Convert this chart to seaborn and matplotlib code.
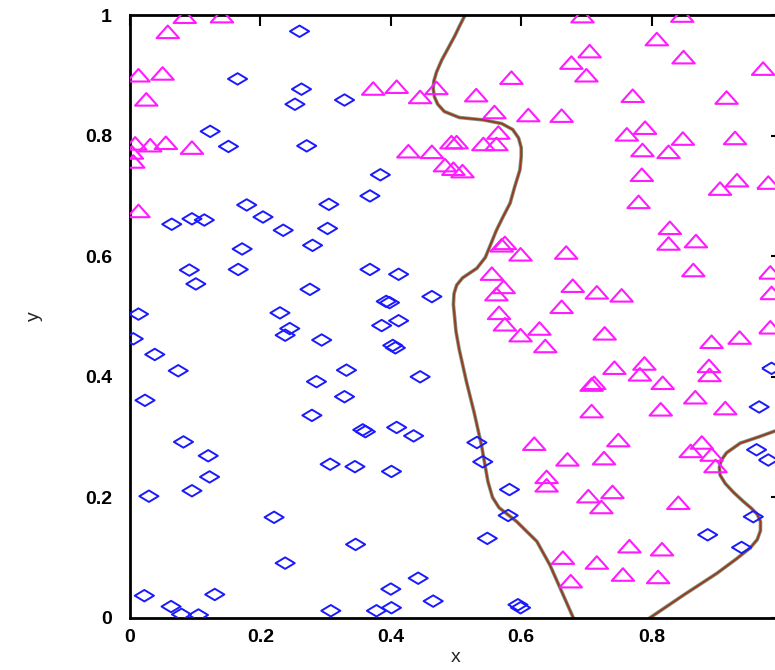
import numpy as np
import seaborn as sns
import matplotlib.pyplot as plt
from matplotlib.path import Path

# blue diamonds (class 1)
blue_x = [0.260, 0.165, 0.263, 0.253, 0.329, 0.123, 0.151, 0.271, 0.384, 0.368,
          0.179, 0.305, 0.204, 0.064, 0.095, 0.114, 0.235, 0.303, 0.280, 0.172,
          0.091, 0.166, 0.101, 0.368, 0.412, 0.276, 0.393, 0.398, 0.463, 0.013,
          0.230, 0.245, 0.238, 0.294, 0.386, 0.412, 0.403, 0.407, 0.005, 0.038,
          0.074, 0.332, 0.286, 0.445, 0.023, 0.329, 0.279, 0.357, 0.361, 0.409,
          0.435, 0.082, 0.120, 0.122, 0.095, 0.029, 0.307, 0.345, 0.401, 0.221,
          0.346, 0.238, 0.022, 0.130, 0.063, 0.079, 0.105, 0.308, 0.378, 0.401,
          0.400, 0.442, 0.465, 0.984, 0.965, 0.961, 0.979, 0.532, 0.541, 0.582,
          0.580, 0.548, 0.956, 0.886, 0.938, 0.595, 0.599]
blue_y = [0.973, 0.894, 0.877, 0.852, 0.859, 0.807, 0.782, 0.783, 0.735, 0.700,
          0.685, 0.686, 0.665, 0.653, 0.662, 0.660, 0.643, 0.646, 0.618, 0.612,
          0.577, 0.578, 0.554, 0.578, 0.570, 0.545, 0.525, 0.523, 0.533, 0.504,
          0.506, 0.480, 0.469, 0.461, 0.485, 0.493, 0.452, 0.448, 0.463, 0.437,
          0.410, 0.411, 0.392, 0.400, 0.361, 0.367, 0.336, 0.312, 0.309, 0.316,
          0.302, 0.292, 0.269, 0.234, 0.211, 0.202, 0.255, 0.251, 0.243, 0.167,
          0.122, 0.091, 0.037, 0.039, 0.019, 0.006, 0.005, 0.012, 0.012, 0.017,
          0.048, 0.066, 0.028, 0.414, 0.350, 0.279, 0.262, 0.291, 0.259, 0.213,
          0.170, 0.132, 0.168, 0.138, 0.117, 0.022, 0.017]

# magenta triangles (class 2)
mag_x = [0.084, 0.141, 0.058, 0.013, 0.050, 0.025, 0.008, 0.031, 0.055, 0.095,
         0.003, 0.005, 0.013, 0.373, 0.409, 0.445, 0.470, 0.427, 0.463, 0.483,
         0.493, 0.694, 0.847, 0.808, 0.705, 0.677, 0.700, 0.849, 0.971, 0.585,
         0.531, 0.771, 0.915, 0.559, 0.611, 0.662, 0.565, 0.501, 0.542, 0.562,
         0.762, 0.790, 0.848, 0.928, 0.786, 0.826, 0.496, 0.510, 0.785, 0.905,
         0.931, 0.979, 0.780, 0.828, 0.826, 0.868, 0.575, 0.570, 0.599, 0.669,
         0.864, 0.555, 0.573, 0.562, 0.679, 0.716, 0.754, 0.566, 0.662, 0.982,
         0.984, 0.575, 0.599, 0.628, 0.637, 0.728, 0.892, 0.935, 0.982, 0.743,
         0.789, 0.782, 0.817, 0.888, 0.889, 0.708, 0.712, 0.708, 0.814, 0.867,
         0.913, 0.620, 0.749, 0.671, 0.727, 0.877, 0.860, 0.892, 0.898, 0.639,
         0.639, 0.703, 0.740, 0.723, 0.841, 0.766, 0.816, 0.664, 0.716, 0.676,
         0.756, 0.810]
mag_y = [0.996, 0.997, 0.971, 0.899, 0.902, 0.859, 0.786, 0.783, 0.787, 0.779,
         0.771, 0.756, 0.674, 0.877, 0.880, 0.863, 0.878, 0.773, 0.772, 0.750,
         0.788, 0.997, 0.998, 0.959, 0.939, 0.920, 0.899, 0.929, 0.910, 0.895,
         0.866, 0.865, 0.862, 0.838, 0.833, 0.832, 0.804, 0.788, 0.785, 0.785,
         0.801, 0.812, 0.794, 0.795, 0.775, 0.772, 0.744, 0.740, 0.734, 0.711,
         0.725, 0.721, 0.689, 0.646, 0.620, 0.624, 0.621, 0.617, 0.602, 0.605,
         0.576, 0.570, 0.548, 0.536, 0.550, 0.539, 0.534, 0.505, 0.515, 0.572,
         0.538, 0.486, 0.468, 0.479, 0.450, 0.471, 0.457, 0.464, 0.481, 0.414,
         0.421, 0.403, 0.389, 0.417, 0.402, 0.386, 0.389, 0.342, 0.345, 0.365,
         0.347, 0.288, 0.294, 0.262, 0.264, 0.290, 0.276, 0.270, 0.251, 0.233,
         0.219, 0.201, 0.208, 0.183, 0.190, 0.118, 0.113, 0.099, 0.091, 0.060,
         0.071, 0.067]

# decision boundary, left branch (top to bottom)
b1_x = [0.514, 0.506, 0.498, 0.488, 0.478, 0.470, 0.466, 0.465, 0.467, 0.472,
        0.482, 0.505, 0.542, 0.570, 0.587, 0.596, 0.600, 0.600, 0.598, 0.590,
        0.583, 0.572, 0.562, 0.545, 0.532, 0.510, 0.501, 0.497, 0.496, 0.500,
        0.505, 0.516, 0.528, 0.539, 0.549, 0.556, 0.566, 0.593, 0.624, 0.644,
        0.660, 0.680]
b1_y = [1.000, 0.983, 0.965, 0.945, 0.925, 0.905, 0.890, 0.878, 0.864, 0.852,
        0.840, 0.830, 0.826, 0.820, 0.810, 0.796, 0.780, 0.765, 0.743, 0.715,
        0.688, 0.665, 0.643, 0.598, 0.580, 0.564, 0.552, 0.538, 0.520, 0.475,
        0.445, 0.392, 0.340, 0.287, 0.226, 0.200, 0.183, 0.160, 0.127, 0.088,
        0.049, 0.000]

# decision boundary, right branch (bottom to right edge)
b2_x = [0.797, 0.849, 0.900, 0.930, 0.951, 0.962, 0.967, 0.967, 0.962, 0.953,
        0.941, 0.926, 0.913, 0.905, 0.904, 0.907, 0.915, 0.936, 0.966, 0.989,
        1.000]
b2_y = [0.000, 0.038, 0.074, 0.098, 0.116, 0.130, 0.145, 0.160, 0.172, 0.182,
        0.193, 0.208, 0.223, 0.237, 0.250, 0.262, 0.274, 0.290, 0.301, 0.310,
        0.313]

ticks = [0, 0.2, 0.4, 0.6, 0.8, 1]
tick_labels = ['0', '0.2', '0.4', '0.6', '0.8', '1']

sns.set_style('white')
plt.rcParams['font.family'] = ['Liberation Sans', 'DejaVu Sans']

fig = plt.figure(figsize=(7.75, 6.7), dpi=100)
ax = fig.add_axes([130 / 775, 52 / 670, 652 / 775, 603 / 670])

# squashed gnuplot-like point shapes
diamond = Path([(-1, 0), (0, 0.6), (1, 0), (0, -0.6), (-1, 0)],
               [Path.MOVETO, Path.LINETO, Path.LINETO, Path.LINETO, Path.CLOSEPOLY])
triangle = Path([(-1, -0.5), (1, -0.5), (0, 0.62), (-1, -0.5)],
                [Path.MOVETO, Path.LINETO, Path.LINETO, Path.CLOSEPOLY])

for bx, by in [(b1_x, b1_y), (b2_x, b2_y)]:
    sns.lineplot(x=bx, y=by, sort=False, estimator=None, color='#7d9a80',
                 linewidth=2.6, ax=ax, solid_joinstyle='round')
    sns.lineplot(x=bx, y=by, sort=False, estimator=None, color='#9a3a24',
                 linewidth=1.4, ax=ax, solid_joinstyle='round')

sns.scatterplot(x=blue_x, y=blue_y, marker=diamond, s=190, facecolors='none',
                edgecolors='#1a1aff', linewidth=1.4, ax=ax, zorder=3)
sns.scatterplot(x=mag_x, y=mag_y, marker=triangle, s=260, facecolors='none',
                edgecolors='#ff1aff', linewidth=1.5, ax=ax, zorder=3)

ax.set_xlim(0, 1)
ax.set_ylim(0, 1)
ax.set_xticks(ticks)
ax.set_xticklabels(tick_labels)
ax.set_yticks(ticks)
ax.set_yticklabels(tick_labels)
ax.tick_params(direction='in', length=8, width=1.5, top=True, right=True,
               labelsize=14, colors='black')
ax.tick_params(axis='x', pad=8)
ax.tick_params(axis='y', pad=13)
for lab in ax.get_xticklabels() + ax.get_yticklabels():
    lab.set_fontweight('bold')
for sp in ax.spines.values():
    sp.set_linewidth(2)
    sp.set_color('black')

ax.set_xlabel('x', fontsize=14, labelpad=2)
ax.set_ylabel('y', fontsize=14, labelpad=30)

fig.savefig('out.png', dpi=100)
